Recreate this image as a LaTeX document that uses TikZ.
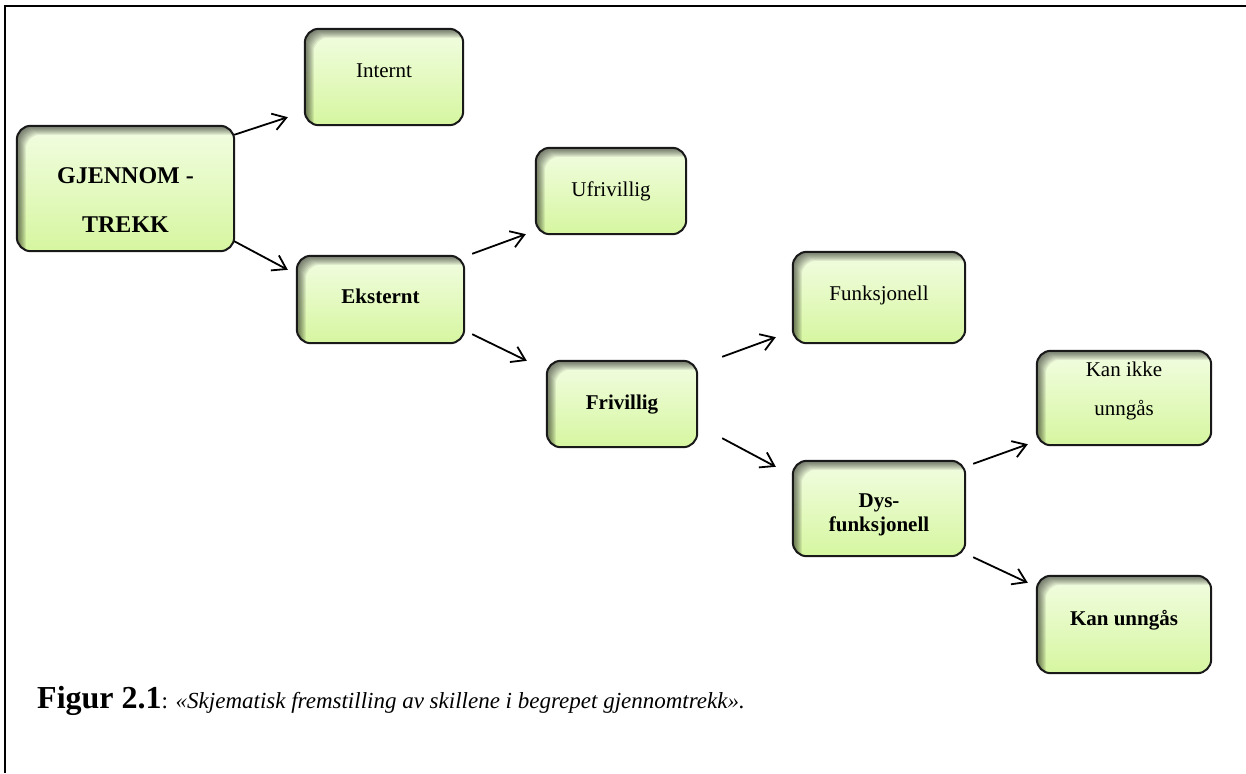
\documentclass[tikz,border=0pt]{standalone}
\usepackage{fontspec}
\setmainfont{Liberation Serif}
\usetikzlibrary{calc,arrows.meta}
\definecolor{boxtop}{RGB}{242,253,226}
\definecolor{boxbot}{RGB}{214,246,160}
\tikzset{
  gbox/.style={rectangle, rounded corners=14pt, top color=boxtop, bottom color=boxbot, inner sep=0pt},
  gborder/.style={draw=black!90, line width=2pt, rounded corners=14pt},
  conn/.style={draw, line width=1.8pt, -{Straight Barb[length=13pt,width=17pt,line width=1.8pt]}},
  btxt/.style={font=\fontsize{21}{25}\selectfont, align=center, inner sep=0pt},
  frame/.style={line width=2pt}
}
\newcommand\gbox[5]{%
  \node[gbox, minimum width={#4-#2}, minimum height={#5-#3}] (#1) at ({(#2+#4)/2},{(#3+#5)/2}) {};
  \begin{scope}
    \clip[rounded corners=14pt] (#1.south west) rectangle (#1.north east);
    \foreach \d in {1,...,9} {
      \fill[black, opacity=0.075, even odd rule]
        ([shift={(-40pt,40pt)}]#1.north west) rectangle ([shift={(40pt,-40pt)}]#1.south east)
        [rounded corners=14pt]
        ([xshift=\d pt, yshift=-\d pt]#1.north west) rectangle ([xshift=\d pt, yshift=-\d pt]#1.south east);
    }
  \end{scope}
  \draw[gborder] (#1.south west) rectangle (#1.north east);
}
\begin{document}
\begin{tikzpicture}[x=1pt,y=-1pt]
\useasboundingbox (0,0) rectangle (1246,773);
\fill[white] (0,0) rectangle (1246,773);
\draw[frame] (1246,6) -- (5,6) -- (5,773);

\gbox{g}{17}{126}{234}{251}
\gbox{i}{305}{29}{463}{125}
\gbox{e}{297}{256}{464}{343}
\gbox{u}{536}{148}{686}{234}
\gbox{f}{547}{361}{697}{447}
\gbox{fu}{793}{252}{965}{343}
\gbox{d}{793}{461}{965}{556}
\gbox{ki}{1037}{351}{1211}{445}
\gbox{ku}{1037}{576}{1211}{673}

\node[btxt, font=\fontsize{24}{49}\selectfont\bfseries] (gt) at ($(g.center)+(0,12)$) {GJENNOM -\\TREKK};
\node[btxt] (it) at ($(i.center)+(0,-6)$) {Internt};
\node[btxt, font=\fontsize{21}{25}\selectfont\bfseries] (et) at ($(e.center)+(0,-3)$) {Eksternt};
\node[btxt] (ut) at ($(u.center)+(0,0)$) {Ufrivillig};
\node[btxt, font=\fontsize{21}{25}\selectfont\bfseries] (ft) at ($(f.center)+(0,1)$) {Frivillig};
\node[btxt] (fut) at ($(fu.center)+(0,-2)$) {Funksjonell};
\node[btxt, font=\fontsize{21}{24}\selectfont\bfseries] (dt) at ($(d.center)+(0,6)$) {Dys-\\funksjonell};
\node[btxt, font=\fontsize{21}{39}\selectfont] (kit) at ($(ki.center)+(0,-7)$) {Kan ikke\\unngås};
\node[btxt, font=\fontsize{21}{25}\selectfont\bfseries] (kut) at ($(ku.center)+(0,-4)$) {Kan unngås};

\draw[conn] ($(g.north east)+(0,9)$) -- ($(i.south west)+(-17,-8)$);
\draw[conn] ($(g.south east)+(0,-10)$) -- ($(e.north west)+(-9,14)$);
\draw[conn] ($(e.north east)+(8,-2)$) -- ($(u.south west)+(-10,0)$);
\draw[conn] ($(e.south east)+(8,-9)$) -- ($(f.north west)+(-20,0)$);
\draw[conn] ($(f.north east)+(25,-4)$) -- ($(fu.south west)+(-17,-6)$);
\draw[conn] ($(f.south east)+(25,-9)$) -- ($(d.north west)+(-17,6)$);
\draw[conn] ($(d.north east)+(8,3)$) -- ($(ki.south west)+(-9,-1)$);
\draw[conn] ($(d.south east)+(8,1)$) -- ($(ku.north west)+(-9,7)$);

\node[anchor=base west, inner sep=0pt] (cap) at (37,708)
  {{\fontsize{32}{38}\selectfont\bfseries Figur 2.1}{\fontsize{23}{28}\selectfont: \itshape «Skjematisk fremstilling av skillene i begrepet gjennomtrekk».}};
\end{tikzpicture}
\end{document}
